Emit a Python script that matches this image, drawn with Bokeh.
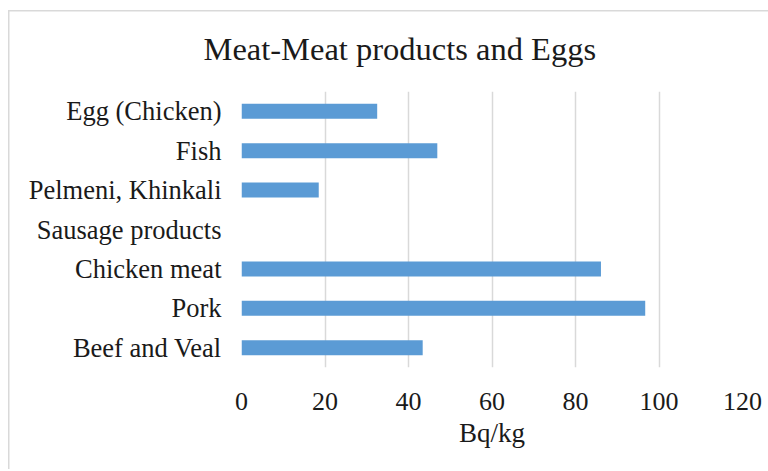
from bokeh.plotting import figure
from bokeh.models import Range1d, FactorRange, FixedTicker
from bokeh.embed import file_html
from bokeh.resources import INLINE

categories = ["Beef and Veal", "Pork", "Chicken meat", "Sausage products",
              "Pelmeni, Khinkali", "Fish", "Egg (Chicken)"]
values = [43.4, 96.7, 86.1, 0, 18.5, 46.9, 32.5]
x_ticks = [0, 20, 40, 60, 80, 100, 120]

FONT = "Liberation Serif"
TXT = "#1a1a1a"

p = figure(width=760, height=466, output_backend="svg", toolbar_location=None,
           y_range=FactorRange(*categories), x_range=Range1d(0, 120),
           min_border_left=233, min_border_right=26, min_border_top=88,
           min_border_bottom=102, title="Meat-Meat products and Eggs")
p.margin = (3, 0, 0, 8)
p.styles = {
    "background": "linear-gradient(#d9d9d9, #d9d9d9) 0px 7px / 100% 1.5px no-repeat, "
                  "linear-gradient(#d9d9d9, #d9d9d9) 0px 7px / 1.5px 100% no-repeat, #ffffff",
}

p.hbar(y=categories, right=values, left=0, height=0.38,
       fill_color="#5b9bd5", line_color=None)

p.title.text_font = FONT
p.title.text_font_size = "32.5px"
p.title.text_font_style = "normal"
p.title.text_color = TXT
p.title.align = "left"
p.title.offset = -38
p.title.standoff = 50

p.outline_line_color = None
p.background_fill_color = "white"
p.border_fill_color = None

p.xaxis.ticker = FixedTicker(ticks=x_ticks)
p.xaxis.axis_line_color = None
p.xaxis.major_tick_line_color = None
p.xaxis.minor_tick_line_color = None
p.xaxis.major_label_text_font = FONT
p.xaxis.major_label_text_font_size = "26px"
p.xaxis.major_label_text_color = TXT
p.xaxis.major_label_standoff = 19
p.xaxis.axis_label = "Bq/kg"
p.xaxis.axis_label_text_font = FONT
p.xaxis.axis_label_text_font_size = "27px"
p.xaxis.axis_label_text_font_style = "normal"
p.xaxis.axis_label_text_color = TXT
p.xaxis.axis_label_standoff = 5

p.yaxis.axis_line_color = None
p.yaxis.major_tick_line_color = None
p.yaxis.minor_tick_line_color = None
p.yaxis.major_label_text_font = FONT
p.yaxis.major_label_text_font_size = "26.5px"
p.yaxis.major_label_text_color = TXT
p.yaxis.major_label_standoff = 14

p.xgrid.grid_line_color = "#d9d9d9"
p.xgrid.grid_line_width = 1.5
p.ygrid.grid_line_color = None

open("out.html", "w").write(file_html(p, INLINE))
